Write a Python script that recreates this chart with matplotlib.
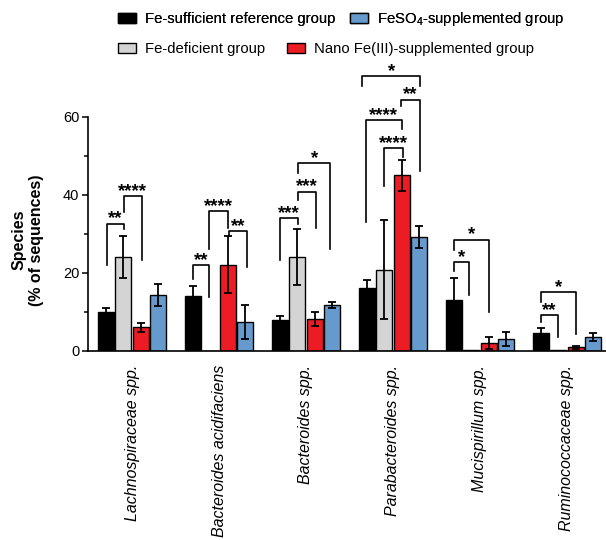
import matplotlib
matplotlib.use("Agg")
import matplotlib.pyplot as plt
from matplotlib.patches import Patch
import numpy as np

plt.rcParams['font.family'] = ['Liberation Sans', 'DejaVu Sans']
plt.rcParams['mathtext.fontset'] = 'custom'
plt.rcParams['mathtext.rm'] = 'Liberation Sans'

# data
species = ["Lachnospiraceae spp.", "Bacteroides acidifaciens", "Bacteroides spp.",
           "Parabacteroides spp.", "Mucispirillum spp.", "Ruminococcaceae spp."]
groups = ["Fe-sufficient reference group", "Fe-deficient group",
          "Nano Fe(III)-supplemented group", "FeSO$_4$-supplemented group"]
colors = ["#000000", "#d4d4d4", "#ec1c24", "#6699cc"]

suff = [9.8, 14.0, 7.8, 16.1, 13.1, 4.5]
suff_err = [1.2, 2.7, 1.1, 2.1, 5.5, 1.3]
defi = [24.0, 0.0, 24.0, 20.8, 0.2, 0.2]
defi_err = [5.4, 0.0, 7.1, 12.6, 0.0, 0.0]
nano = [6.0, 22.0, 8.2, 45.0, 2.0, 0.9]
nano_err = [1.2, 7.3, 1.8, 4.0, 1.5, 0.4]
feso4 = [14.3, 7.3, 11.8, 29.2, 3.0, 3.5]
feso4_err = [2.8, 4.3, 0.8, 2.8, 1.8, 1.1]

# brackets: left x, right x, height, left leg bottom, right leg bottom, label
brackets = [
    (0.05, 1.05, 32.6, 22.0, 31.2, "**"),
    (1.05, 2.05, 39.7, 35.6, 23.2, "****"),
    (5.0, 5.9, 21.9, 18.5, 13.8, "**"),
    (5.9, 7.0, 35.9, 26.2, 31.4, "****"),
    (7.1, 8.1, 30.6, 29.4, 21.5, "**"),
    (10.0, 11.05, 34.1, 23.2, 32.6, "***"),
    (11.05, 12.1, 40.8, 38.6, 31.5, "***"),
    (11.05, 12.9, 48.2, 45.6, 26.2, "*"),
    (16.0, 17.05, 51.9, 42.3, 49.7, "****"),
    (14.95, 17.0, 59.1, 32.9, 56.8, "****"),
    (16.95, 18.05, 64.4, 62.7, 46.1, "**"),
    (14.75, 18.05, 70.4, 67.9, 67.9, "*"),
    (20.0, 20.9, 22.7, 20.5, 14.3, "*"),
    (20.0, 22.0, 28.5, 25.8, 10.0, "*"),
    (25.0, 26.0, 9.2, 7.4, 3.6, "**"),
    (25.0, 27.0, 15.1, 12.6, 4.4, "*"),
]

fig = plt.figure(figsize=(6.06, 5.4), dpi=100)
ax = fig.add_axes([0.1447, 0.3506, 0.8553, 0.4333])

base = np.arange(len(species)) * 5
series = [(suff, suff_err), (defi, defi_err), (nano, nano_err), (feso4, feso4_err)]
for i, (vals, errs) in enumerate(series):
    errs = np.array(errs, dtype=float)
    ax.bar(base + i, vals, width=0.92, color=colors[i], edgecolor="black", linewidth=1.0,
           yerr=np.where(errs > 0, errs, np.nan),
           error_kw=dict(ecolor="black", elinewidth=1.3, capsize=3, capthick=1.3), zorder=2)

for xl, xr, h, yl, yr, lab in brackets:
    ax.plot([xl, xl, xr, xr], [yl, h, h, yr], color="black", lw=1.2, clip_on=False, zorder=3)
    ax.annotate(lab, ((xl + xr) / 2, h), xytext=(0, 0), textcoords="offset points",
                ha="center", va="baseline", fontsize=13.5, fontweight="bold",
                annotation_clip=False)

ax.set_xlim(-1.05, 28.75)
ax.set_ylim(0, 60)
ax.set_yticks([0, 20, 40, 60])
ax.set_yticks([10, 30, 50], minor=True)
ax.tick_params(axis="y", which="major", length=4, width=1.1, labelsize=10.5, pad=2)
ax.tick_params(axis="y", which="minor", length=3, width=1.1)
ax.set_xticks(base + 1.5)
ax.set_xticklabels(species, rotation=90, fontstyle="italic", fontsize=11.5)
ax.tick_params(axis="x", length=0, pad=10)
for s in ["top", "right"]:
    ax.spines[s].set_visible(False)
for s in ["left", "bottom"]:
    ax.spines[s].set_linewidth(1.2)

fig.text(28 / 606, 1 - 240 / 540, "Species\n(% of sequences)", rotation=90,
         ha="center", va="center", fontsize=11.5, fontweight="bold", multialignment="center")

h = [Patch(facecolor=c, edgecolor="black", linewidth=1.0) for c in colors]
leg1 = fig.legend([h[0], h[3]], [groups[0], groups[3]], ncol=2, loc="center left",
                  bbox_to_anchor=(118 / 606, 1 - 19 / 540), frameon=False, fontsize=10.7,
                  borderpad=0, borderaxespad=0, handlelength=1.2, handleheight=0.72,
                  handletextpad=0.6, columnspacing=1.0)
fig.legend([h[1], h[2]], [groups[1], groups[2]], ncol=2, loc="center left",
           bbox_to_anchor=(118 / 606, 1 - 49 / 540), frameon=False, fontsize=10.7,
           borderpad=0, borderaxespad=0, handlelength=1.2, handleheight=0.72,
           handletextpad=0.6, columnspacing=1.5)
fig.add_artist(leg1)

fig.savefig("out.png", dpi=100)
